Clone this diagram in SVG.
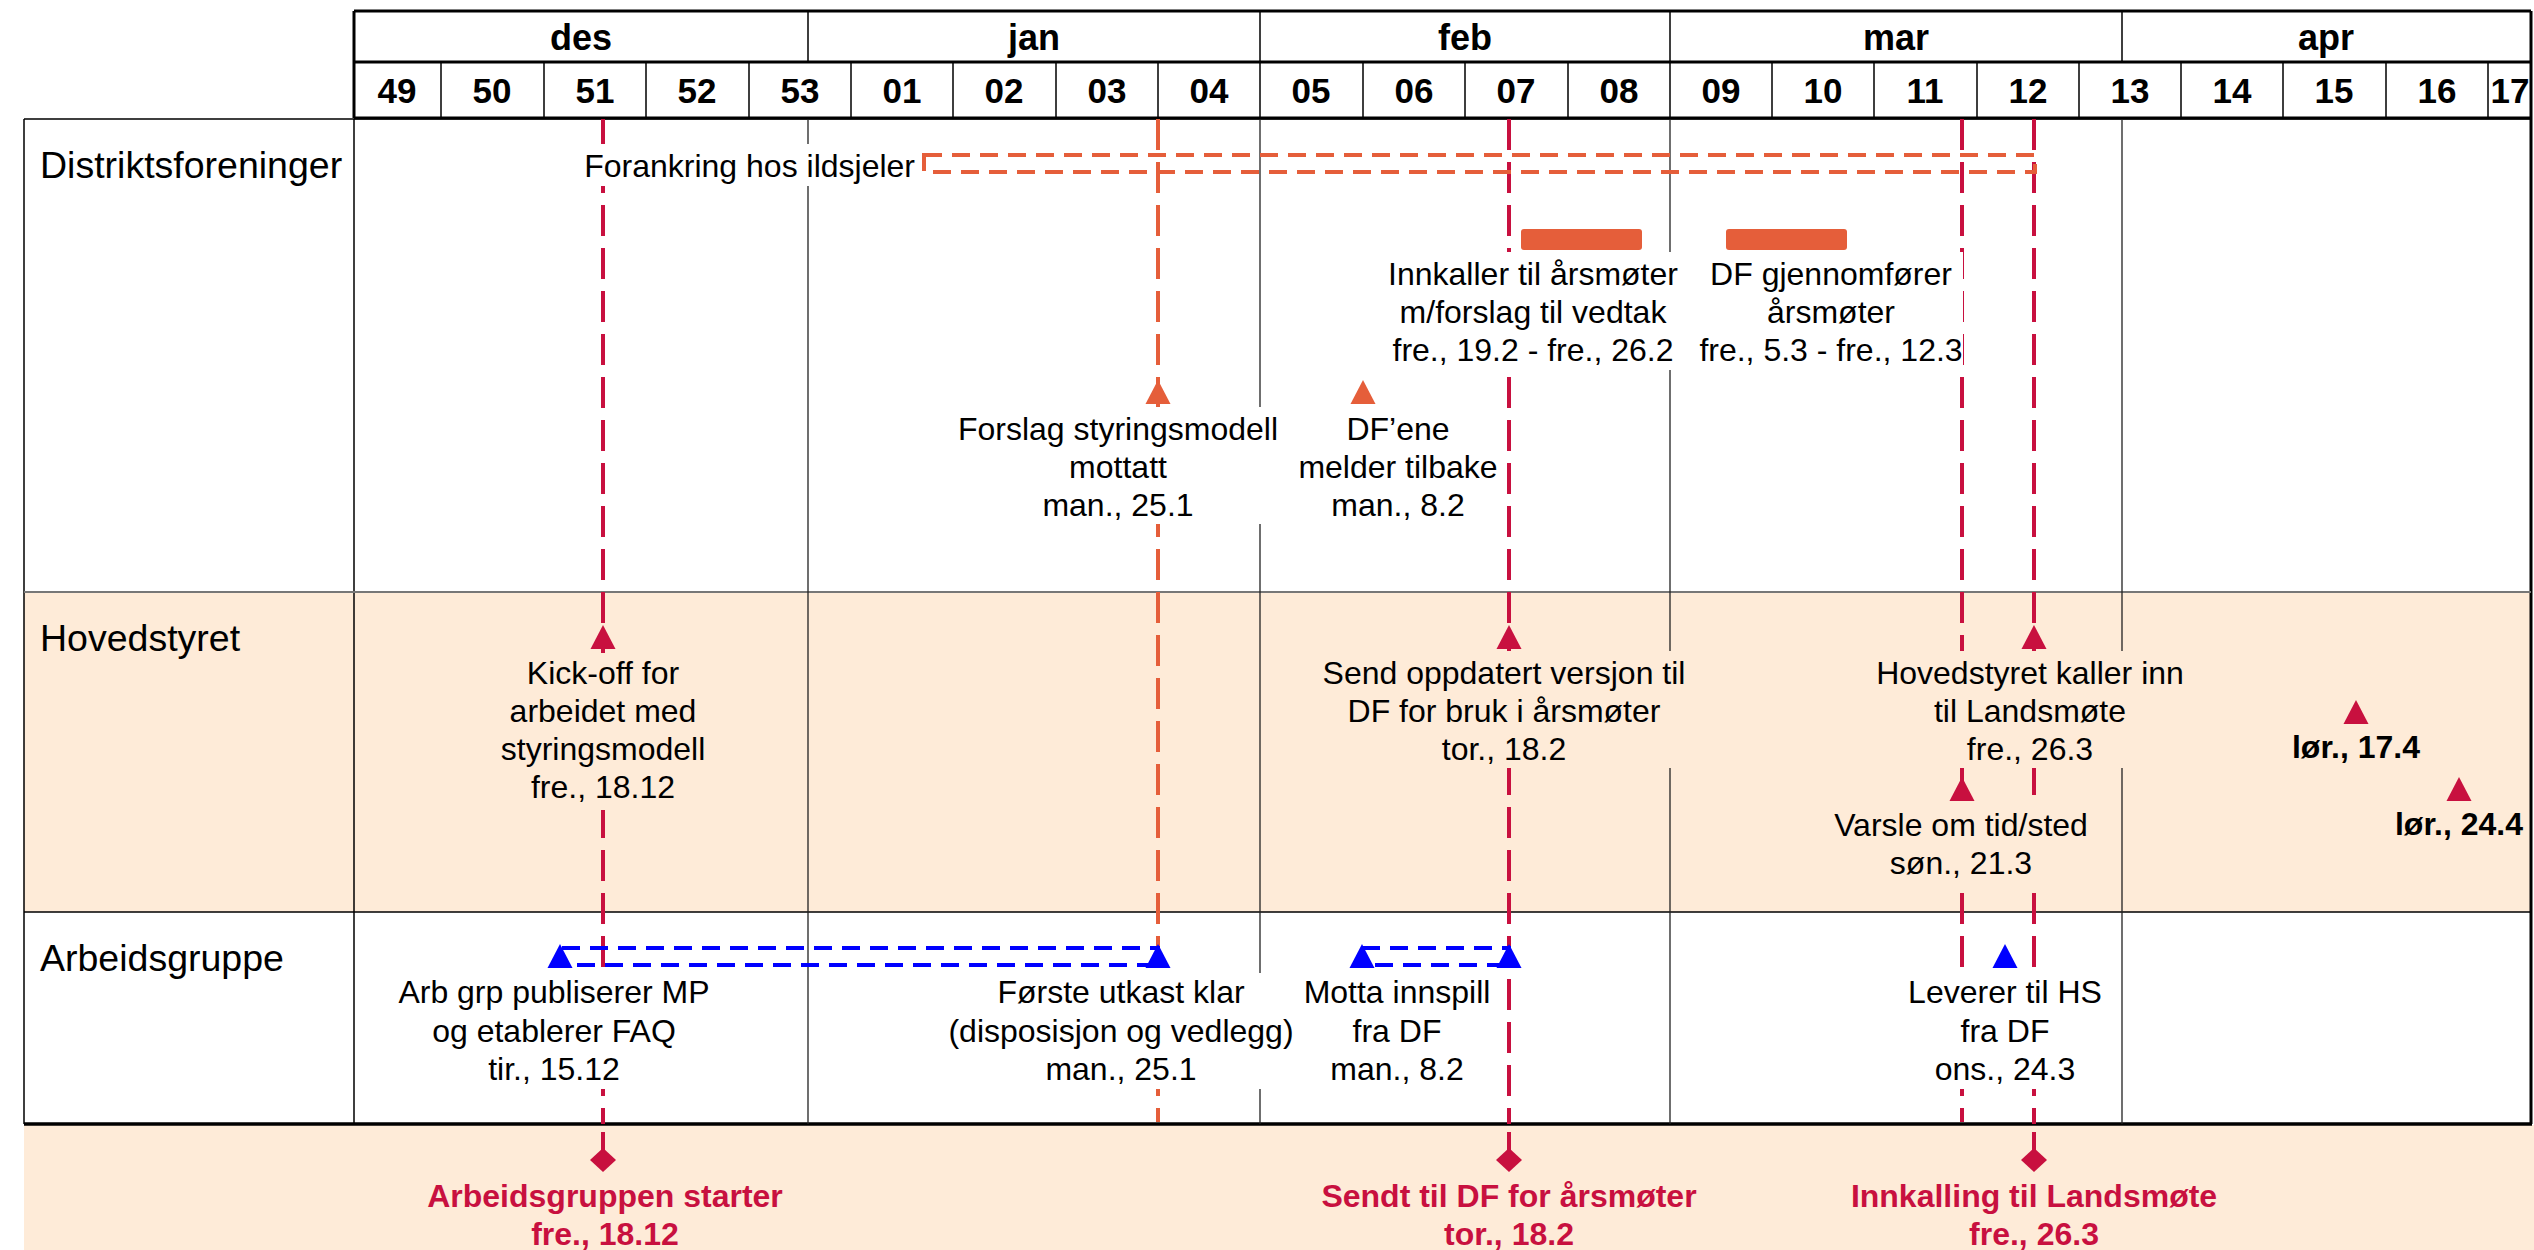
<svg xmlns="http://www.w3.org/2000/svg" width="2534" height="1250" viewBox="0 0 2534 1250">
<style>
text{font-family:"Liberation Sans",Arial,sans-serif;fill:#000}
.hdr{font-size:36px;font-weight:bold;text-anchor:middle}
.wk{font-size:35px;font-weight:bold;text-anchor:middle}
.row{font-size:37.5px}
.lbl{font-size:32px;text-anchor:middle}
.bold{font-size:32px;font-weight:bold;text-anchor:middle}
.ms{font-size:32px;font-weight:bold;text-anchor:middle;fill:#C8103F}
.grid{stroke:#000;stroke-width:1.5;fill:none}
.thick{stroke:#000;stroke-width:3;fill:none}
.vc{stroke:#C8103F;stroke-width:4;stroke-dasharray:31 12;fill:none}
.vo{stroke:#E55E3A;stroke-width:4;stroke-dasharray:31 12;fill:none}
.ro{stroke:#E55E3A;stroke-width:4;stroke-dasharray:18 10;fill:none}
.rb{stroke:#0000FF;stroke-width:4;stroke-dasharray:18 10;fill:none}
.tc{fill:#C8103F}
.to{fill:#E55E3A}
.tb{fill:#0000FF}
.bgw{fill:#FFFFFF}
.bgp{fill:#FEEBD8}
</style>
<defs>
<path id="tri" d="M0,0 L12.5,24 L-12.5,24 Z"/>
<path id="dia" d="M0,-12 L13,0 L0,12 L-13,0 Z"/>
</defs>
<rect width="2534" height="1250" fill="#FFFFFF"/>

<g id="table">
<rect x="24" y="592" width="2506" height="320" class="bgp"/>
<rect x="24" y="1125" width="2510" height="125" class="bgp"/>
<!-- header -->
<g id="header">
<path class="thick" d="M354,11 H2531 M354,62 H2531 M354,118 H2531 M354,11 V118 M2531,11 V1124"/>
<path class="grid" d="M808,11 V62 M1260,11 V62 M1670,11 V62 M2122,11 V62"/>
<path class="grid" d="M441,62 V118 M544,62 V118 M646,62 V118 M749,62 V118 M851,62 V118 M953,62 V118 M1056,62 V118 M1158,62 V118 M1260,62 V118 M1363,62 V118 M1465,62 V118 M1568,62 V118 M1670,62 V118 M1772,62 V118 M1874,62 V118 M1977,62 V118 M2079,62 V118 M2181,62 V118 M2283,62 V118 M2386,62 V118 M2488,62 V118"/>
<text class="hdr" x="581" y="50">des</text>
<text class="hdr" x="1034" y="50">jan</text>
<text class="hdr" x="1465" y="50">feb</text>
<text class="hdr" x="1896" y="50">mar</text>
<text class="hdr" x="2326" y="50">apr</text>
<text class="wk" x="397" y="103">49</text>
<text class="wk" x="492" y="103">50</text>
<text class="wk" x="595" y="103">51</text>
<text class="wk" x="697" y="103">52</text>
<text class="wk" x="800" y="103">53</text>
<text class="wk" x="902" y="103">01</text>
<text class="wk" x="1004" y="103">02</text>
<text class="wk" x="1107" y="103">03</text>
<text class="wk" x="1209" y="103">04</text>
<text class="wk" x="1311" y="103">05</text>
<text class="wk" x="1414" y="103">06</text>
<text class="wk" x="1516" y="103">07</text>
<text class="wk" x="1619" y="103">08</text>
<text class="wk" x="1721" y="103">09</text>
<text class="wk" x="1823" y="103">10</text>
<text class="wk" x="1925" y="103">11</text>
<text class="wk" x="2028" y="103">12</text>
<text class="wk" x="2130" y="103">13</text>
<text class="wk" x="2232" y="103">14</text>
<text class="wk" x="2334" y="103">15</text>
<text class="wk" x="2437" y="103">16</text>
<text class="wk" x="2510" y="103">17</text>
</g>
<!-- body frame -->
<path class="grid" d="M24,119 H2531 M24,119 V1124 M354,119 V1124 M24,912 H2531"/>
<path d="M24,592 H2531" stroke="#777" stroke-width="2" fill="none"/>
<path d="M24,1124 H2532" stroke="#000" stroke-width="3.5" fill="none"/>
<path d="M808,119 V1124 M1260,119 V1124 M1670,119 V1124 M2122,119 V1124" stroke="#222" stroke-width="1.3" fill="none"/>
<text class="row" x="40" y="178">Distriktsforeninger</text>
<text class="row" x="40" y="651">Hovedstyret</text>
<text class="row" x="40" y="971">Arbeidsgruppe</text>
</g>

<g id="connectors">
<path class="vc" d="M603,119 V1124"/>
<path class="vo" d="M1158,119 V1122"/>
<path class="vc" d="M1509,119 V1124"/>
<path class="vc" d="M1962,119 V1122"/>
<path class="vc" d="M2034,119 V1124"/>
<path d="M603,1132 V1155 M1509,1132 V1155 M2034,1132 V1155" stroke="#C8103F" stroke-width="4"/>
<rect class="ro" x="924" y="155" width="1111" height="17"/>
<rect class="rb" x="562" y="948" width="596" height="17"/>
<rect class="rb" x="1362" y="948" width="147" height="17"/>
</g>

<g id="forankring">
<rect class="bgw" x="580" y="144" width="338" height="42"/>
<text class="lbl" x="915" y="177" style="text-anchor:end">Forankring hos ildsjeler</text>
</g>

<g id="innkaller">
<rect x="1521" y="229" width="121" height="21" rx="3" class="to"/>
<rect class="bgw" x="1385" y="252" width="298" height="118"/>
<text class="lbl" x="1533"><tspan x="1533" y="285">Innkaller til årsmøter</tspan><tspan x="1533" y="323">m/forslag til vedtak</tspan><tspan x="1533" y="361">fre., 19.2 - fre., 26.2</tspan></text>
</g>

<g id="gjennomforer">
<rect x="1726" y="229" width="121" height="21" rx="3" class="to"/>
<rect class="bgw" x="1697" y="252" width="266" height="118"/>
<text class="lbl" x="1831"><tspan x="1831" y="285">DF gjennomfører</tspan><tspan x="1831" y="323">årsmøter</tspan><tspan x="1831" y="361">fre., 5.3 - fre., 12.3</tspan></text>
</g>

<g id="forslag">
<use href="#tri" x="1158" y="380" class="to"/>
<rect class="bgw" x="955" y="407" width="327" height="117"/>
<text class="lbl"><tspan x="1118" y="440">Forslag styringsmodell</tspan><tspan x="1118" y="478">mottatt</tspan><tspan x="1118" y="516">man., 25.1</tspan></text>
</g>

<g id="dfene">
<use href="#tri" x="1363" y="380" class="to"/>
<rect class="bgw" x="1296" y="407" width="204" height="117"/>
<text class="lbl"><tspan x="1398" y="440">DF’ene</tspan><tspan x="1398" y="478">melder tilbake</tspan><tspan x="1398" y="516">man., 8.2</tspan></text>
</g>

<g id="kickoff">
<use href="#tri" x="603" y="625" class="tc"/>
<rect class="bgp" x="492" y="653" width="222" height="157"/>
<text class="lbl"><tspan x="603" y="684">Kick-off for</tspan><tspan x="603" y="722">arbeidet med</tspan><tspan x="603" y="760">styringsmodell</tspan><tspan x="603" y="798">fre., 18.12</tspan></text>
</g>

<g id="send">
<use href="#tri" x="1509" y="625" class="tc"/>
<rect class="bgp" x="1320" y="651" width="368" height="117"/>
<text class="lbl"><tspan x="1504" y="684">Send oppdatert versjon til</tspan><tspan x="1504" y="722">DF for bruk i årsmøter</tspan><tspan x="1504" y="760">tor., 18.2</tspan></text>
</g>

<g id="kallerinn">
<use href="#tri" x="2034" y="625" class="tc"/>
<rect class="bgp" x="1873" y="651" width="314" height="117"/>
<text class="lbl"><tspan x="2030" y="684">Hovedstyret kaller inn</tspan><tspan x="2030" y="722">til Landsmøte</tspan><tspan x="2030" y="760">fre., 26.3</tspan></text>
</g>

<g id="varsle">
<use href="#tri" x="1962" y="777" class="tc"/>
<rect class="bgp" x="1831" y="805" width="260" height="80"/>
<text class="lbl"><tspan x="1961" y="836">Varsle om tid/sted</tspan><tspan x="1961" y="874">søn., 21.3</tspan></text>
</g>

<g id="lor174">
<use href="#tri" x="2356" y="700" class="tc"/>
<text class="bold" x="2356" y="758">lør., 17.4</text>
</g>

<g id="lor244">
<use href="#tri" x="2459" y="777" class="tc"/>
<text class="bold" x="2459" y="835">lør., 24.4</text>
</g>

<g id="arbgrp">
<use href="#tri" x="560" y="944" class="tb"/>
<rect class="bgw" x="396" y="973" width="317" height="116"/>
<text class="lbl"><tspan x="554" y="1003">Arb grp publiserer MP</tspan><tspan x="554" y="1042">og etablerer FAQ</tspan><tspan x="554" y="1080">tir., 15.12</tspan></text>
</g>

<g id="forsteutkast">
<use href="#tri" x="1158" y="944" class="tb"/>
<rect class="bgw" x="945" y="973" width="351" height="116"/>
<text class="lbl"><tspan x="1121" y="1003">Første utkast klar</tspan><tspan x="1121" y="1042">(disposisjon og vedlegg)</tspan><tspan x="1121" y="1080">man., 25.1</tspan></text>
</g>

<g id="motta">
<use href="#tri" x="1362" y="944" class="tb"/>
<use href="#tri" x="1509" y="944" class="tb"/>
<rect class="bgw" x="1301" y="973" width="193" height="116"/>
<text class="lbl"><tspan x="1397" y="1003">Motta innspill</tspan><tspan x="1397" y="1042">fra DF</tspan><tspan x="1397" y="1080">man., 8.2</tspan></text>
</g>

<g id="leverer">
<use href="#tri" x="2005" y="944" class="tb"/>
<rect class="bgw" x="1905" y="973" width="201" height="116"/>
<text class="lbl"><tspan x="2005" y="1003">Leverer til HS</tspan><tspan x="2005" y="1042">fra DF</tspan><tspan x="2005" y="1080">ons., 24.3</tspan></text>
</g>

<g id="ms-arbeidsgruppen">
<use href="#dia" x="603" y="1160" class="tc"/>
<text class="ms"><tspan x="605" y="1207">Arbeidsgruppen starter</tspan><tspan x="605" y="1245">fre., 18.12</tspan></text>
</g>
<g id="ms-sendt">
<use href="#dia" x="1509" y="1160" class="tc"/>
<text class="ms"><tspan x="1509" y="1207">Sendt til DF for årsmøter</tspan><tspan x="1509" y="1245">tor., 18.2</tspan></text>
</g>
<g id="ms-innkalling">
<use href="#dia" x="2034" y="1160" class="tc"/>
<text class="ms"><tspan x="2034" y="1207">Innkalling til Landsmøte</tspan><tspan x="2034" y="1245">fre., 26.3</tspan></text>
</g>
</svg>
